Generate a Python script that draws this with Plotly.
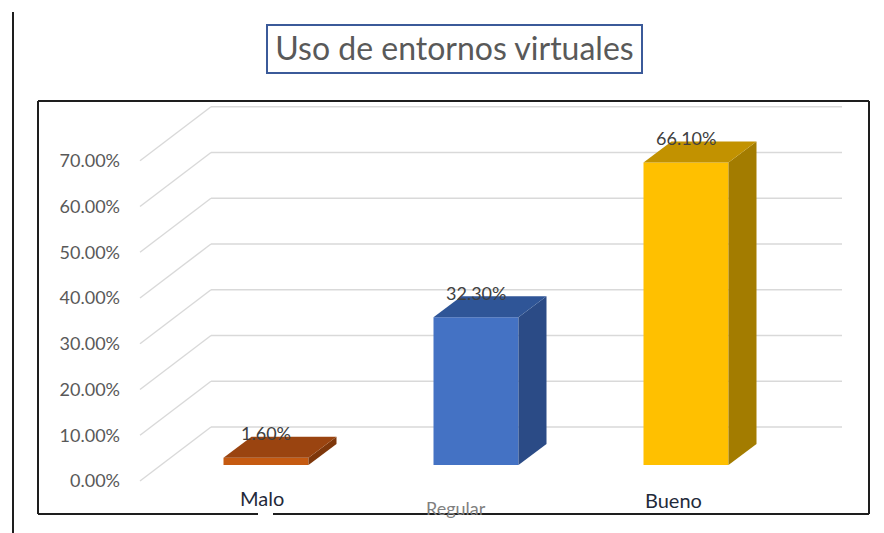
import plotly.graph_objects as go

# ---------------- data ----------------
categories = ["Malo", "Regular", "Bueno"]
values = [1.6, 32.3, 66.1]
y_ticks = [0, 10, 20, 30, 40, 50, 60, 70]
y_tick_labels = ["0.00%", "10.00%", "20.00%", "30.00%", "40.00%", "50.00%", "60.00%", "70.00%"]
value_labels = ["1.60%", "32.30%", "66.10%"]
title_text = "Uso de entornos virtuales"

# ---------------- styles ----------------
front_colors = ["#C55A11", "#4472C4", "#FFC000"]
top_colors = ["#9A4410", "#2F5597", "#C29200"]
side_colors = ["#7E370B", "#2B4B86", "#A37C00"]
cat_label_colors = ["#1F2A3A", "#7F7F7F", "#1F2A3A"]

W, H = 884, 533
L, R, T, B = 121, 869, 102, 513          # plot domain in pixels
X0, XS = 266, 210                         # pixel of first category, pixels per category
Y0, YS = 465, 4.575                       # pixel of 0 %, pixels per 1 %

BAR_W = 85 / XS
DEPTH_X = 28 / XS
DEPTH_Y = 21 / YS
BACK_DY = 38 / YS      # back wall offset (up)
FRONT_DY = 16 / YS     # front edge offset (down)
BACK_X0 = (211 - X0) / XS
BACK_X1 = (842 - X0) / XS
FRONT_X = (140 - X0) / XS

def pxx(p):
    return (p - L) / (R - L)

def pxy(p):
    return (B - p) / (B - T)

fig = go.Figure()

# front faces
fig.add_trace(go.Bar(
    x=list(range(len(categories))), y=values, width=BAR_W,
    marker=dict(color=front_colors, line=dict(width=0)),
    hoverinfo="skip", showlegend=False,
))

# side and top faces
for i, v in enumerate(values):
    xl, xr = i - BAR_W / 2, i + BAR_W / 2
    fig.add_trace(go.Scatter(
        x=[xr, xr, xr + DEPTH_X, xr + DEPTH_X, xr],
        y=[0, v, v + DEPTH_Y, DEPTH_Y, 0],
        fill="toself", fillcolor=side_colors[i], mode="lines",
        line=dict(width=0, color=side_colors[i]), hoverinfo="skip", showlegend=False,
    ))
    fig.add_trace(go.Scatter(
        x=[xl, xr, xr + DEPTH_X, xl + DEPTH_X, xl],
        y=[v, v, v + DEPTH_Y, v + DEPTH_Y, v],
        fill="toself", fillcolor=top_colors[i], mode="lines",
        line=dict(width=0, color=top_colors[i]), hoverinfo="skip", showlegend=False,
    ))

shapes = []
# gridlines: back wall + floor diagonals
for v in y_ticks:
    shapes.append(dict(type="line", xref="x", yref="y", layer="below",
                       x0=BACK_X0, x1=BACK_X1, y0=v + BACK_DY, y1=v + BACK_DY,
                       line=dict(color="#D9D9D9", width=1.6)))
    shapes.append(dict(type="line", xref="x", yref="y", layer="below",
                       x0=FRONT_X, x1=BACK_X0, y0=v - FRONT_DY, y1=v + BACK_DY,
                       line=dict(color="#D9D9D9", width=1.4)))

border = dict(color="#1E1E1E", width=2)
# chart box
shapes += [
    dict(type="line", xref="paper", yref="paper", x0=pxx(38), x1=pxx(869), y0=pxy(101), y1=pxy(101), line=border),
    dict(type="line", xref="paper", yref="paper", x0=pxx(38), x1=pxx(38), y0=pxy(101), y1=pxy(514), line=border),
    dict(type="line", xref="paper", yref="paper", x0=pxx(869), x1=pxx(869), y0=pxy(101), y1=pxy(514), line=border),
    dict(type="line", xref="paper", yref="paper", x0=pxx(38), x1=pxx(258), y0=pxy(514), y1=pxy(514), line=border),
    dict(type="line", xref="paper", yref="paper", x0=pxx(273), x1=pxx(869), y0=pxy(514), y1=pxy(514), line=border),
    # outer left line
    dict(type="line", xref="paper", yref="paper", x0=pxx(13), x1=pxx(13), y0=pxy(12), y1=pxy(533),
         line=dict(color="#1E1E1E", width=2)),
    # title box
    dict(type="rect", xref="paper", yref="paper", x0=pxx(267), x1=pxx(642), y0=pxy(25), y1=pxy(73),
         line=dict(color="#3B5A99", width=2)),
]

annotations = []
# value labels
for i, v in enumerate(values):
    annotations.append(dict(xref="x", yref="y", x=i, y=v + DEPTH_Y + 0.7, text=value_labels[i],
                            showarrow=False, xanchor="center", yanchor="middle",
                            font=dict(family="Lato", size=18, color="#404040")))

# category labels (pixel offsets from bar centre, vertical pixel positions)
cat_dx_px = [-4, -20, -13]
cat_y_px = [498, 508, 500]
cat_sizes = [20, 18, 20]
for i, c in enumerate(categories):
    annotations.append(dict(xref="x", yref="paper", x=i + cat_dx_px[i] / XS, y=pxy(cat_y_px[i]),
                            text=c, showarrow=False, xanchor="center", yanchor="middle",
                            font=dict(family="Lato", size=cat_sizes[i], color=cat_label_colors[i])))

fig.update_layout(
    width=W, height=H,
    margin=dict(l=L, r=W - R, t=T, b=H - B, pad=0),
    paper_bgcolor="white", plot_bgcolor="rgba(0,0,0,0)",
    showlegend=False,
    title=dict(text=title_text, xref="container", yref="container",
               x=454.5 / W, y=1 - 49 / H, xanchor="center", yanchor="middle",
               font=dict(family="Lato", size=32, color="#595959")),
    xaxis=dict(range=[(L - X0) / XS, (R - X0) / XS], showgrid=False, zeroline=False,
               showline=False, showticklabels=False, fixedrange=True),
    yaxis=dict(range=[(Y0 - B) / YS, (Y0 - T) / YS], showgrid=False, zeroline=False,
               showline=False, tickmode="array",
               tickvals=[v - FRONT_DY for v in y_ticks], ticktext=y_tick_labels,
               ticks="", tickfont=dict(family="Lato", size=18, color="#595959"),
               fixedrange=True),
    shapes=shapes,
    annotations=annotations,
)

fig.write_html("out.html", config={"displayModeBar": False},
               post_script="document.body.style.margin='0';")
